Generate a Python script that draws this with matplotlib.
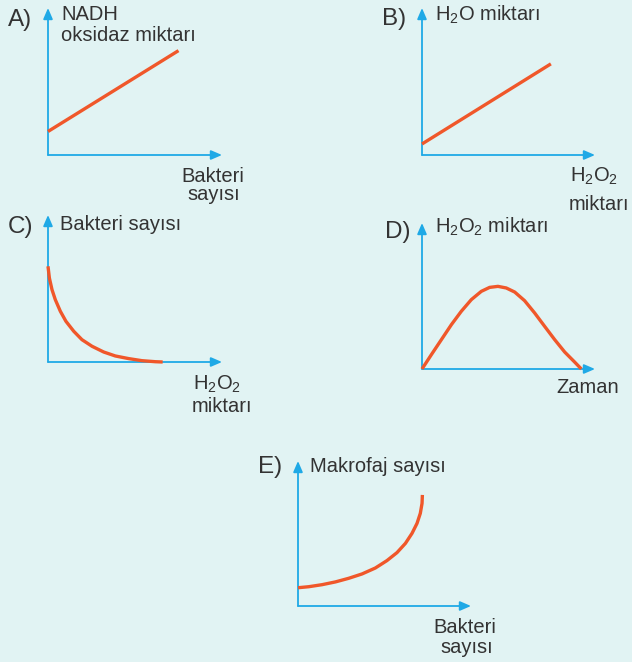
import matplotlib
matplotlib.use("Agg")
import matplotlib.pyplot as plt

# ---------------- data (axes span 0..1 up to arrow tips) -------------
a_x = [0.0, 0.75]
a_y = [0.16, 0.71]

b_x = [0.0, 0.745]
b_y = [0.075, 0.62]

c_x = [0.0, 0.008, 0.023, 0.042, 0.071, 0.103, 0.148, 0.195, 0.253, 0.320, 0.387, 0.464, 0.540, 0.617, 0.659]
c_y = [0.651, 0.571, 0.492, 0.424, 0.345, 0.277, 0.209, 0.152, 0.107, 0.068, 0.041, 0.023, 0.009, 0.002, 0.0]

d_x = [0.0, 0.054, 0.112, 0.170, 0.227, 0.285, 0.343, 0.391, 0.439, 0.487, 0.536, 0.593, 0.651, 0.709, 0.767, 0.825, 0.882, 0.921]
d_y = [0.0, 0.098, 0.201, 0.304, 0.395, 0.475, 0.532, 0.559, 0.566, 0.555, 0.527, 0.468, 0.384, 0.292, 0.201, 0.116, 0.048, 0.0]

e_x = [0.0, 0.062, 0.139, 0.216, 0.293, 0.370, 0.447, 0.514, 0.572, 0.621, 0.659, 0.688, 0.707, 0.717, 0.719]
e_y = [0.126, 0.133, 0.147, 0.166, 0.191, 0.221, 0.262, 0.313, 0.368, 0.432, 0.501, 0.570, 0.639, 0.708, 0.766]

panel_letters = ["A)", "B)", "C)", "D)", "E)"]
y_labels = [["NADH", "oksidaz miktarı"],
            [r"H$\mathregular{_2}$O miktarı"],
            ["Bakteri sayısı"],
            [r"H$\mathregular{_2}$O$\mathregular{_2}$ miktarı"],
            ["Makrofaj sayısı"]]
x_labels = [["Bakteri", "sayısı"],
            [r"H$\mathregular{_2}$O$\mathregular{_2}$", "miktarı"],
            [r"H$\mathregular{_2}$O$\mathregular{_2}$", "miktarı"],
            ["Zaman"],
            ["Bakteri", "sayısı"]]

# ---------------- style / layout ----------------
W, H = 632, 662
BG = "#E1F3F3"
AXC = "#1FA9E6"
LC = "#F0572A"
TC = "#333333"
plt.rcParams["font.family"] = ["Liberation Sans", "DejaVu Sans"]
plt.rcParams["mathtext.fontset"] = "custom"
plt.rcParams["mathtext.rm"] = "Liberation Sans"

fig = plt.figure(figsize=(W / 100, H / 100), dpi=100)
fig.patch.set_facecolor(BG)

def fx(px):
    return px / W

def fy(py):
    return 1 - py / H

# (origin x, origin y, width, height) in pixels
boxes = [(48, 155, 174, 147),
         (422, 155, 173, 147),
         (48, 362, 174, 147),
         (422, 369, 173, 146),
         (298, 606, 173, 145)]

series = [(a_x, a_y), (b_x, b_y), (c_x, c_y), (d_x, d_y), (e_x, e_y)]

# letter (x, baseline), ylabel lines (x, baseline), xlabel lines (center x, baseline)
letter_pos = [(8, 26), (382, 25), (8, 233), (385, 238), (258, 473)]
ylab_pos = [[(61, 20), (61, 41)], [(435, 21)], [(60, 230)], [(435, 233)], [(310, 472)]]
xlab_pos = [[(213, 182), (214, 200)],
            [(594, 182), (599, 210)],
            [(217, 390), (222, 412)],
            [(588, 393)],
            [(465, 633), (467, 653)]]

for i, (ox, oy, w, h) in enumerate(boxes):
    ax = fig.add_axes([fx(ox), fy(oy), w / W, h / H])
    ax.set_xlim(0, 1)
    ax.set_ylim(0, 1)
    ax.axis("off")
    arrow = dict(arrowstyle="-|>,head_length=0.65,head_width=0.28", color=AXC,
                 lw=1.3, shrinkA=0, shrinkB=0, mutation_scale=10)
    ax.annotate("", xy=(1, 0), xytext=(0, 0), xycoords="axes fraction",
                textcoords="axes fraction", arrowprops=arrow, annotation_clip=False)
    ax.annotate("", xy=(0, 1), xytext=(0, 0), xycoords="axes fraction",
                textcoords="axes fraction", arrowprops=arrow, annotation_clip=False)
    xs, ys = series[i]
    ax.plot(xs, ys, color=LC, lw=2.4, solid_capstyle="butt", solid_joinstyle="round",
            clip_on=False, zorder=5)

    lx, ly = letter_pos[i]
    fig.text(fx(lx), fy(ly), panel_letters[i], fontsize=17.5, color=TC, va="baseline", ha="left")
    for txt, (tx, ty) in zip(y_labels[i], ylab_pos[i]):
        fig.text(fx(tx), fy(ty), txt, fontsize=14.5, color=TC, va="baseline", ha="left")
    for txt, (tx, ty) in zip(x_labels[i], xlab_pos[i]):
        fig.text(fx(tx), fy(ty), txt, fontsize=14.5, color=TC, va="baseline", ha="center")

fig.savefig("out.png", dpi=100, facecolor=BG)
